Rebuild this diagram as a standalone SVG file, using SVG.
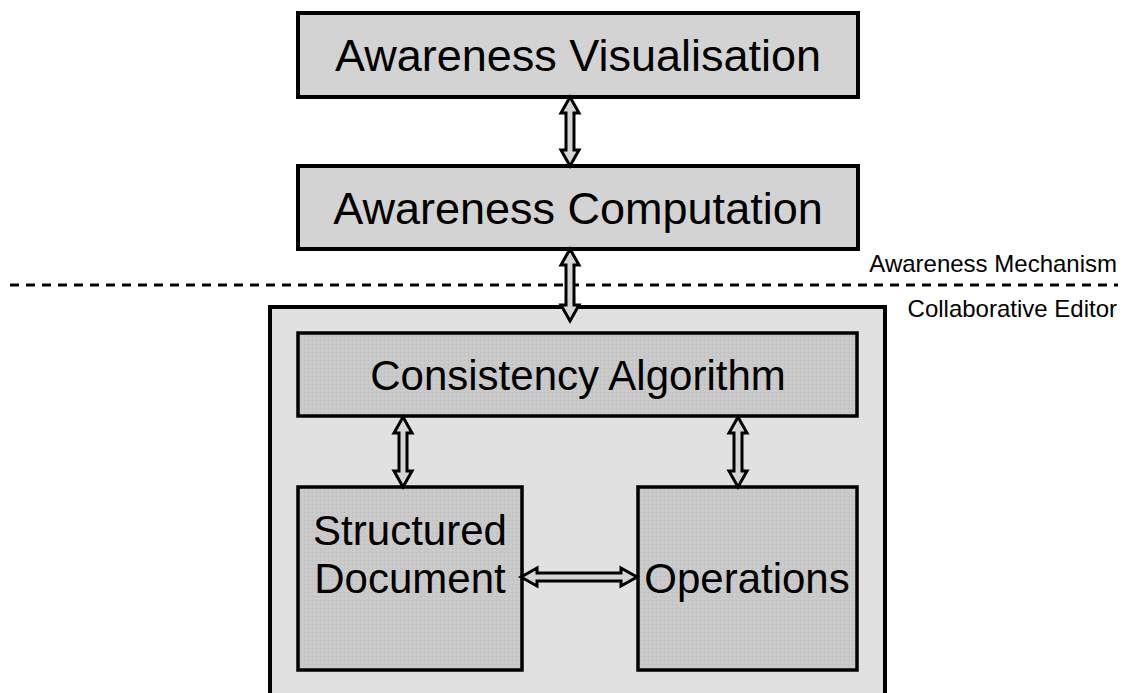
<svg xmlns="http://www.w3.org/2000/svg" width="1130" height="693" viewBox="0 0 1130 693">
  <style>
    .lbl { font-family: "Liberation Sans", Arial, sans-serif; fill: #000; text-anchor: middle; }
    .big { font-size: 45px; }
    .mid { font-size: 42px; }
    .small { font-size: 24px; text-anchor: end; }
    .top { fill: #d3d3d3; stroke: #000; stroke-width: 4; }
    .outer { fill: #e1e1e1; stroke: #000; stroke-width: 4; }
    .inner { fill: url(#grain); stroke: #000; stroke-width: 3.5; }
    .arrow { fill: #d6d6d6; stroke: #000; stroke-width: 3; stroke-linejoin: miter; }
    .sep { stroke: #000; stroke-width: 3; stroke-dasharray: 9 7; fill: none; }
  </style>
  <defs>
    <pattern id="grain" width="4" height="4" patternUnits="userSpaceOnUse">
      <rect width="4" height="4" fill="#c9c9c9"/>
      <rect x="0" y="0" width="1" height="1" fill="#bcbcbc"/>
      <rect x="2" y="2" width="1" height="1" fill="#d2d2d2"/>
    </pattern>
  </defs>

  <rect width="1130" height="693" fill="#fff"/>

  <!-- awareness mechanism / collaborative editor boundary -->
  <line class="sep" x1="10" y1="285" x2="1118" y2="285"/>
  <text class="lbl small" x="1117" y="272">Awareness Mechanism</text>
  <text class="lbl small" x="1117" y="317">Collaborative Editor</text>

  <g id="awareness-visualisation">
    <rect class="top" x="298" y="13" width="560" height="84"/>
    <text class="lbl big" x="578" y="71">Awareness Visualisation</text>
  </g>

  <g id="awareness-computation">
    <rect class="top" x="298" y="166" width="560" height="83"/>
    <text class="lbl big" x="578" y="224">Awareness Computation</text>
  </g>

  <g id="collaborative-editor">
    <rect class="outer" x="270" y="307" width="615" height="400"/>
  </g>

  <g id="consistency-algorithm">
    <rect class="inner" x="298" y="333" width="559" height="83"/>
    <text class="lbl mid" x="578" y="390">Consistency Algorithm</text>
  </g>

  <g id="structured-document">
    <rect class="inner" x="298" y="487" width="224" height="183"/>
    <text class="lbl mid" x="410" y="545">Structured</text>
    <text class="lbl mid" x="410" y="593">Document</text>
  </g>

  <g id="operations">
    <rect class="inner" x="638" y="487" width="219" height="183"/>
    <text class="lbl mid" x="747" y="593">Operations</text>
  </g>

  <g id="connectors">
    <!-- visualisation <-> computation -->
    <path class="arrow" d="M570,97 L579,113 L574,113 L574,150 L579,150 L570,166 L561,150 L566,150 L566,113 L561,113 Z"/>
    <!-- computation <-> consistency algorithm -->
    <path class="arrow" d="M570,249 L579,265 L574,265 L574,305 L579,305 L570,321 L561,305 L566,305 L566,265 L561,265 Z"/>
    <!-- consistency algorithm <-> structured document -->
    <path class="arrow" d="M403,417 L412,433 L407,433 L407,471 L412,471 L403,487 L394,471 L399,471 L399,433 L394,433 Z"/>
    <!-- consistency algorithm <-> operations -->
    <path class="arrow" d="M738,417 L747,433 L742,433 L742,471 L747,471 L738,487 L729,471 L734,471 L734,433 L729,433 Z"/>
    <!-- structured document <-> operations -->
    <path class="arrow" d="M521,577 L537,568 L537,573 L621,573 L621,568 L637,577 L621,586 L621,581 L537,581 L537,586 Z"/>
  </g>
</svg>
